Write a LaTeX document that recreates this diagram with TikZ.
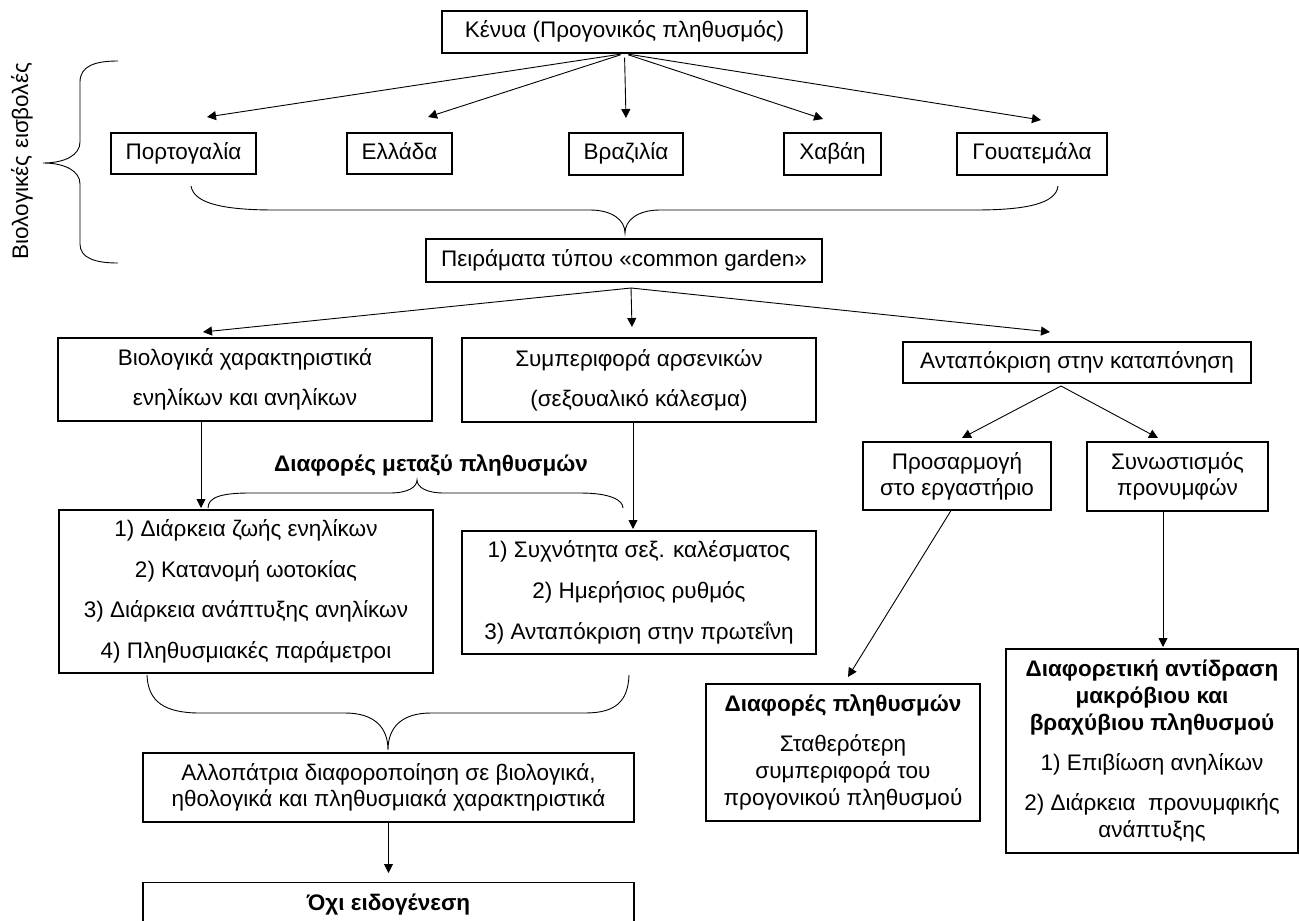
\documentclass[tikz,border=0pt]{standalone}
\usepackage{fontspec}
\setmainfont{Liberation Sans}
\usepackage{tikz}
\usetikzlibrary{calc,positioning,arrows.meta}
\tikzset{
box/.style={draw, line width=1.1pt, align=center, inner sep=0pt, font=\fontsize{22.5}{26}\selectfont}, % plain framed box
one/.style={text height=16pt, text depth=4.5pt}, % single line, same centring for all
wide/.style={font=\fontsize{22.5}{40}\selectfont}, % loose line spacing
arr/.style={-{Triangle[length=9pt,width=9pt]}, line width=0.9pt},
brace/.style={line width=0.9pt},
}

\begin{document}
\begin{tikzpicture}[x=1pt,y=1pt,yscale=-1]
\path[use as bounding box] (0,0) rectangle (1299,921);
\clip (0,0) rectangle (1299,921);

% Kenya and the five invaded regions
\node[box, one, minimum width=365, minimum height=42] (kenya) at (624.5,32) {Κένυα (Προγονικός πληθυσμός)};
\node[box, one, minimum width=145, minimum height=41] (portugal) at (183.5,153.5) {Πορτογαλία};
\node[box, one, minimum width=105, minimum height=41] (greece) at (399.5,153.5) {Ελλάδα};
\node[box, one, minimum width=114, minimum height=42] (brazil) at (626,154) {Βραζιλία};
\node[box, one, minimum width=97, minimum height=42] (havana) at (832.5,154) {Χαβάη};
\node[box, one, minimum width=150, minimum height=42] (guatemala) at (1032,154) {Γουατεμάλα};

\coordinate (tpor) at (207,117);
\coordinate (tgre) at (428,117);
\coordinate (tbra) at (626,118);
\coordinate (thav) at (823,119);
\coordinate (tgua) at (1041,120);
\foreach \t in {tpor,tgre,tbra,thav,tgua}
  \draw[arr, shorten <=4pt] (kenya.south) -- (\t);

% side label
\node[rotate=90, font=\fontsize{22.5}{26}\selectfont] (invasion) at (22,161) {Βιολογικές εισβολές};
\draw[brace] (118,61) .. controls (95,61) and (80,66) .. (80,82) -- (80,142)
  .. controls (80,155) and (65,163) .. (43,163) .. controls (65,163) and (80,171) .. (80,184)
  -- (80,244) .. controls (80,258) and (95,263) .. (118,263);

% brace into the common garden box
\draw[brace] (191,186) .. controls (194,204) and (225,210) .. (275,210) -- (590,210)
  .. controls (612,210) and (625,220) .. (625,233) .. controls (625,220) and (638,210) .. (660,210)
  -- (975,210) .. controls (1025,210) and (1056,204) .. (1058,186);
\node[box, one, minimum width=396, minimum height=43] (garden) at (624,260.5) {Πειράματα τύπου «common garden»};

% three lines of experiments
\node[box, wide, minimum width=374, minimum height=83] (biol) at (245,379.5) {Βιολογικά χαρακτηριστικά\\ενηλίκων και ανηλίκων};
\node[box, wide, minimum width=354, minimum height=84] (male) at (639,380) {Συμπεριφορά αρσενικών\\(σεξουαλικό κάλεσμα)};
\node[box, one, minimum width=348, minimum height=41] (stress) at (1077,362.5) {Ανταπόκριση στην καταπόνηση};

\coordinate (gfan) at (631,288);
\coordinate (tbiol) at (203,332);
\coordinate (tmale) at (632,327);
\coordinate (tstress) at (1050,332);
\foreach \t in {tbiol,tmale,tstress}
  \draw[arr] (gfan) -- (\t);

% differences between populations
\node[font=\bfseries\fontsize{22.5}{26}\selectfont] (diffs) at (431,465) {Διαφορές μεταξύ πληθυσμών};
\draw[brace] (208,508) .. controls (208,497) and (222,493) .. (250,493) -- (390,493)
  .. controls (408,493) and (417,487) .. (417,480) .. controls (417,487) and (426,493) .. (444,493)
  -- (580,493) .. controls (610,493) and (623,500) .. (623,508);

\node[box, font=\fontsize{22.5}{40.5}\selectfont, minimum width=374, minimum height=163] (traits) at (246,591.5)
  {1) Διάρκεια ζωής ενηλίκων\\2) Κατανομή ωοτοκίας\\3) Διάρκεια ανάπτυξης ανηλίκων\\4) Πληθυσμιακές παράμετροι};
\node[box, font=\fontsize{22.5}{41}\selectfont, minimum width=354, minimum height=123] (calls) at (639,592.5)
  {1) Συχνότητα σεξ. καλέσματος\\2) Ημερήσιος ρυθμός\\3) Ανταπόκριση στην πρωτεΐνη};
\coordinate (ttraits) at (201,508);
\coordinate (tcalls) at (633,529);
\draw[arr] (ttraits |- biol.south) -- (ttraits);
\draw[arr] (tcalls |- male.south) -- (tcalls);

% stress responses
\node[box, minimum width=188, minimum height=68] (lab) at (957,476) {Προσαρμογή\\στο εργαστήριο};
\node[box, minimum width=181, minimum height=69] (crowd) at (1177.5,476.5) {Συνωστισμός\\προνυμφών};
\coordinate (sfan) at (1061,386);
\coordinate (tlab) at (962,438);
\coordinate (tcrowd) at (1158,438);
\draw[arr] (sfan) -- (tlab);
\draw[arr] (sfan) -- (tcrowd);

\node[box, font=\fontsize{22.5}{27}\selectfont, minimum width=274, minimum height=137] (popdiff) at (843,752.5)
  {\textbf{Διαφορές πληθυσμών}\\[13pt]Σταθερότερη\\συμπεριφορά του\\προγονικού πληθυσμού};
\node[box, font=\fontsize{22.5}{27}\selectfont, minimum width=292, minimum height=204] (resp) at (1152,751)
  {\textbf{Διαφορετική αντίδραση}\\\textbf{μακρόβιου και}\\\textbf{βραχύβιου πληθυσμού}\\[13pt]1) Επιβίωση ανηλίκων\\[13pt]2) Διάρκεια\ \ προνυμφικής\\ανάπτυξης};
\coordinate (tpop) at (848,677);
\coordinate (tresp) at (1163,647);
\draw[arr] ($(lab.south)+(-6,0)$) -- (tpop);
\draw[arr] (tresp |- crowd.south) -- (tresp);

% outcome
\draw[brace] (147,675) .. controls (148,702) and (165,713) .. (200,713) -- (345,713)
  .. controls (375,713) and (388,728) .. (388,750) .. controls (388,728) and (401,713) .. (431,713)
  -- (585,713) .. controls (615,713) and (628,702) .. (629,675);
\node[box, minimum width=491, minimum height=69] (allo) at (388.5,787.5)
  {Αλλοπάτρια διαφοροποίηση σε βιολογικά,\\ηθολογικά και πληθυσμιακά χαρακτηριστικά};
\node[box, anchor=north, minimum width=491, inner ysep=8pt, text height=20pt, text depth=32pt,
  font=\bfseries\fontsize{22.5}{26}\selectfont] (nospec) at (388.5,882) {Όχι ειδογένεση};
\draw[arr, shorten >=9pt] (allo.south) -- (nospec.north);

\end{tikzpicture}
\end{document}
